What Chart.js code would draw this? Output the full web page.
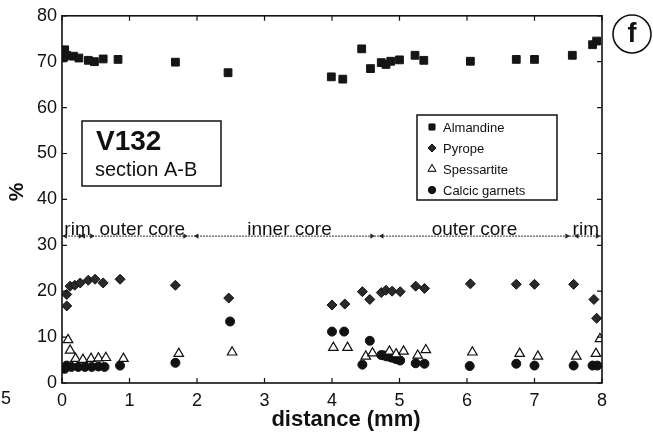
<!DOCTYPE html>
<html lang="en">
<head>
    <meta charset="UTF-8">
    <title>V132 section A-B</title>
    <script src="https://cdn.jsdelivr.net/npm/chart.js"></script>
    <style>
        body { margin: 0; background: #fff; }
    </style>
</head>
<body>
    <canvas id="garnetChart" width="653" height="436"></canvas>

    <script>
        // distance (mm) and % for each end member
        var almX = [0.03, 0.04, 0.07, 0.17, 0.25, 0.39, 0.48, 0.61, 0.83, 1.68, 2.46, 3.99, 4.16, 4.44, 4.57, 4.73, 4.80, 4.87, 5.00, 5.23, 5.36, 6.05, 6.73, 7.00, 7.56, 7.86, 7.92];
        var almY = [71.0, 72.6, 71.4, 71.2, 70.8, 70.3, 70.0, 70.6, 70.5, 69.9, 67.6, 66.7, 66.2, 72.8, 68.5, 69.8, 69.4, 70.1, 70.4, 71.4, 70.3, 70.1, 70.5, 70.5, 71.4, 73.7, 74.5];

        var pyrX = [0.07, 0.07, 0.12, 0.19, 0.27, 0.39, 0.49, 0.61, 0.86, 1.68, 2.47, 4.00, 4.19, 4.45, 4.56, 4.73, 4.80, 4.89, 5.01, 5.24, 5.37, 6.05, 6.73, 7.00, 7.58, 7.88, 7.92];
        var pyrY = [16.8, 19.3, 21.1, 21.3, 21.8, 22.4, 22.6, 21.8, 22.6, 21.3, 18.5, 17.0, 17.2, 19.9, 18.2, 19.7, 20.2, 20.0, 19.9, 21.1, 20.6, 21.6, 21.5, 21.5, 21.5, 18.2, 14.1];

        var spesX = [0.09, 0.12, 0.20, 0.31, 0.43, 0.54, 0.65, 0.91, 1.73, 2.52, 4.02, 4.23, 4.50, 4.60, 4.85, 4.95, 5.06, 5.27, 5.39, 6.08, 6.78, 7.05, 7.62, 7.91, 7.97];
        var spesY = [9.4, 7.1, 5.3, 5.1, 5.3, 5.4, 5.5, 5.3, 6.4, 6.7, 7.7, 7.7, 5.8, 6.5, 6.9, 6.3, 6.9, 6.0, 7.2, 6.7, 6.4, 5.8, 5.8, 6.4, 9.6];

        var calcX = [0.04, 0.07, 0.14, 0.24, 0.34, 0.44, 0.54, 0.63, 0.86, 1.68, 2.49, 4.00, 4.18, 4.45, 4.56, 4.73, 4.77, 4.81, 4.87, 4.90, 4.95, 5.01, 5.24, 5.37, 6.04, 6.73, 7.00, 7.58, 7.86, 7.93];
        var calcY = [3.1, 3.8, 3.5, 3.5, 3.5, 3.5, 3.6, 3.5, 3.8, 4.4, 13.4, 11.2, 11.2, 4.0, 9.2, 6.1, 6.0, 5.8, 5.6, 5.5, 5.2, 4.9, 4.3, 4.2, 3.7, 4.2, 3.8, 3.8, 3.8, 3.8];

        var seriesNames = ['Almandine', 'Pyrope', 'Spessartite', 'Calcic garnets'];

        // zones along the traverse
        var zoneLabels = ['rim', 'outer core', 'inner core', 'outer core', 'rim'];
        var zoneLabelX = [0.23, 1.19, 3.37, 6.11, 7.76];
        var zoneLineY = 32;
        var zoneLabelY = 34;
        var arrowRightX = [0.27, 0.44, 1.82, 4.59, 7.48, 7.93];
        var arrowLeftX = [0.05, 0.32, 2.00, 4.74, 7.63];

        var xTicks = [0, 1, 2, 3, 4, 5, 6, 7, 8];
        var yTicks = [0, 10, 20, 30, 40, 50, 60, 70, 80];

        function pts(xs, ys) {
            return xs.map(function(x, i) { return { x: x, y: ys[i] }; });
        }

        var ink = '#111';
        var font = 'Liberation Sans, Arial, sans-serif';

        // frame with inward ticks, zone text, boxes
        var decorPlugin = {
            id: 'decor',
            afterDraw: function(chart) {
                var ctx = chart.ctx;
                var a = chart.chartArea;
                var sx = chart.scales.x, sy = chart.scales.y;
                ctx.save();

                ctx.strokeStyle = ink;
                ctx.lineWidth = 1.6;
                ctx.strokeRect(a.left, a.top, a.right - a.left, a.bottom - a.top);

                ctx.lineWidth = 1.2;
                ctx.beginPath();
                xTicks.forEach(function(t) {
                    var px = sx.getPixelForValue(t);
                    ctx.moveTo(px, a.bottom); ctx.lineTo(px, a.bottom - 5);
                    ctx.moveTo(px, a.top); ctx.lineTo(px, a.top + 5);
                });
                yTicks.forEach(function(t) {
                    var py = sy.getPixelForValue(t);
                    ctx.moveTo(a.left, py); ctx.lineTo(a.left + 5, py);
                    ctx.moveTo(a.right, py); ctx.lineTo(a.right - 5, py);
                });
                ctx.stroke();

                // zone names
                ctx.fillStyle = ink;
                ctx.font = '19px ' + font;
                ctx.textAlign = 'center';
                ctx.textBaseline = 'alphabetic';
                zoneLabels.forEach(function(t, i) {
                    ctx.fillText(t, sx.getPixelForValue(zoneLabelX[i]), sy.getPixelForValue(zoneLabelY) + 8);
                });

                // sample box
                ctx.lineWidth = 1.5;
                ctx.strokeRect(82, 121, 139, 65);
                ctx.textAlign = 'left';
                ctx.font = 'bold 28px ' + font;
                ctx.fillText('V132', 96, 150);
                ctx.font = '20px ' + font;
                ctx.fillText('section A-B', 95, 176);

                // legend
                ctx.strokeRect(417, 115, 140, 85);
                ctx.font = '13px ' + font;
                ctx.textBaseline = 'middle';
                var rowY = [127, 148, 169, 190];
                var styles = ['rect', 'rectRot', 'triangle', 'circle'];
                var radii = [5, 5, 5.5, 4.5];
                seriesNames.forEach(function(n, i) {
                    var ds = chart.data.datasets[i];
                    ctx.fillStyle = ds.pointBackgroundColor;
                    ctx.strokeStyle = ink;
                    ctx.lineWidth = 1;
                    Chart.helpers.drawPoint(ctx, { pointStyle: styles[i], radius: radii[i] - 1, rotation: 0, borderWidth: 1 }, 432, rowY[i]);
                    ctx.fill();
                    ctx.stroke();
                    ctx.fillStyle = ink;
                    ctx.fillText(n, 443, rowY[i] + 1);
                });

                // axis labels
                ctx.save();
                ctx.translate(17, 192);
                ctx.rotate(-Math.PI / 2);
                ctx.textAlign = 'center';
                ctx.font = 'bold 21px ' + font;
                ctx.fillText('%', 0, 0);
                ctx.restore();

                ctx.textAlign = 'center';
                ctx.font = 'bold 22px ' + font;
                ctx.fillText('distance (mm)', 346, 420);

                // stray label at the left of the x axis
                ctx.font = '18px ' + font;
                ctx.fillText('5', 6, 399);

                // panel letter
                ctx.beginPath();
                ctx.lineWidth = 1.6;
                ctx.arc(632, 34, 19, 0, Math.PI * 2);
                ctx.stroke();
                ctx.font = 'bold 27px ' + font;
                ctx.fillText('f', 632, 35);

                ctx.restore();
            }
        };

        var ctx = document.getElementById('garnetChart').getContext('2d');
        var chart = new Chart(ctx, {
            type: 'scatter',
            data: {
                datasets: [{
                    label: seriesNames[0],
                    data: pts(almX, almY),
                    pointStyle: 'rect',
                    pointRadius: 5.5,
                    pointBackgroundColor: '#151515',
                    pointBorderColor: '#151515',
                    pointBorderWidth: 1
                }, {
                    label: seriesNames[1],
                    data: pts(pyrX, pyrY),
                    pointStyle: 'rectRot',
                    pointRadius: 5,
                    pointBackgroundColor: '#2a2a2a',
                    pointBorderColor: '#111',
                    pointBorderWidth: 1
                }, {
                    label: seriesNames[2],
                    data: pts(spesX, spesY),
                    pointStyle: 'triangle',
                    pointRadius: 5.5,
                    pointBackgroundColor: '#fff',
                    pointBorderColor: '#111',
                    pointBorderWidth: 1.2
                }, {
                    label: seriesNames[3],
                    data: pts(calcX, calcY),
                    pointStyle: 'circle',
                    pointRadius: 4.5,
                    pointBackgroundColor: '#111',
                    pointBorderColor: '#111',
                    pointBorderWidth: 1
                }, {
                    label: 'zones',
                    data: [{ x: 0, y: zoneLineY }, { x: 8, y: zoneLineY }],
                    showLine: true,
                    borderColor: '#333',
                    borderWidth: 1,
                    borderDash: [2, 1],
                    pointRadius: 0
                }, {
                    label: 'arrows right',
                    data: arrowRightX.map(function(x) { return { x: x, y: zoneLineY }; }),
                    pointStyle: 'triangle',
                    rotation: 90,
                    pointRadius: 3,
                    pointBackgroundColor: '#222',
                    pointBorderColor: '#222',
                    pointBorderWidth: 0
                }, {
                    label: 'arrows left',
                    data: arrowLeftX.map(function(x) { return { x: x, y: zoneLineY }; }),
                    pointStyle: 'triangle',
                    rotation: -90,
                    pointRadius: 3,
                    pointBackgroundColor: '#222',
                    pointBorderColor: '#222',
                    pointBorderWidth: 0
                }]
            },
            options: {
                responsive: false,
                animation: false,
                layout: { padding: { top: 13, right: 51, left: 0, bottom: 0 } },
                plugins: {
                    legend: { display: false },
                    tooltip: { enabled: false }
                },
                scales: {
                    x: {
                        min: 0,
                        max: 8,
                        grid: { display: false, drawTicks: false },
                        border: { display: false },
                        ticks: {
                            stepSize: 1,
                            color: ink,
                            padding: 7,
                            font: { family: font, size: 18 }
                        },
                        afterFit: function(s) { s.height = 53; }
                    },
                    y: {
                        min: 0,
                        max: 80,
                        grid: { display: false, drawTicks: false },
                        border: { display: false },
                        ticks: {
                            stepSize: 10,
                            color: ink,
                            padding: 5,
                            font: { family: font, size: 18 }
                        },
                        afterFit: function(s) { s.width = 62; }
                    }
                }
            },
            plugins: [decorPlugin]
        });
    </script>
</body>
</html>
